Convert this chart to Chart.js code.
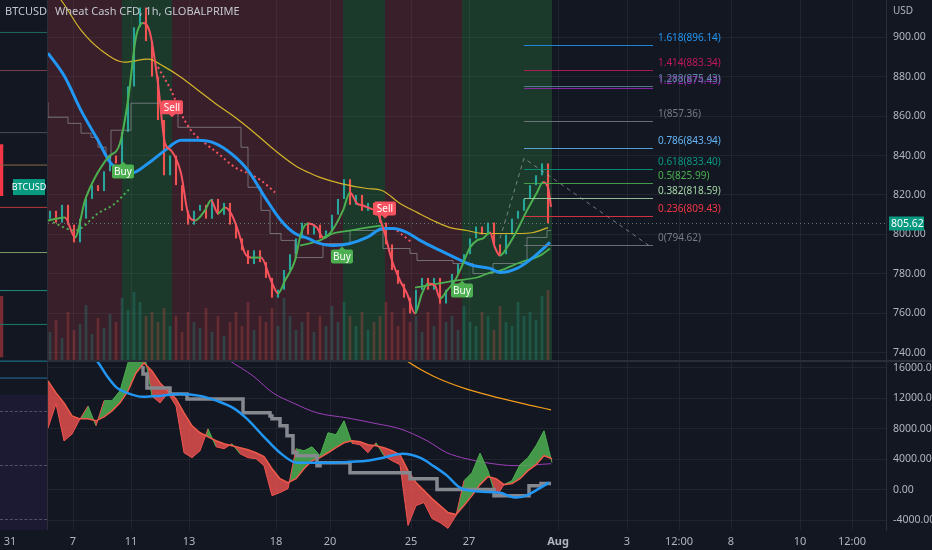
<!DOCTYPE html>
<html>
<head>
<meta charset="utf-8">
<title>Wheat Cash CFD, 1h</title>
<script src="https://cdn.jsdelivr.net/npm/chart.js@4.4.1/dist/chart.umd.min.js"></script>
<style>
  html, body { margin: 0; padding: 0; background: #131722; }
  #wrap { position: relative; width: 932px; height: 550px; overflow: hidden; background: #131722; font-family: "Noto Sans", sans-serif; }
  #topBox { position: absolute; left: 0; top: 0; width: 932px; height: 360px; }
  #sep { position: absolute; left: 0; top: 360px; width: 932px; height: 2px; background: #2a2e39; }
  #botBox { position: absolute; left: 0; top: 362px; width: 932px; height: 188px; }
  #sliver { position: absolute; left: 0; top: 0; width: 47px; height: 530px; background: #131722; border-right: 1px solid #2a2e39; overflow: hidden; }
  #sliverTop { position: absolute; left: 0; top: 0; width: 47px; height: 395px; }
  #sliverOsc { position: absolute; left: 0; top: 395px; width: 47px; height: 135px; background: #1c1a33; }
  .dash { position: absolute; left: 0; width: 47px; border-top: 1px dashed #4f5263; }
  .hdr { position: absolute; top: 3px; font-size: 11px; color: #c3c6ce; white-space: nowrap; }
  #usd { position: absolute; left: 893px; top: 3px; font-size: 10px; color: #b2b5be; }
</style>
</head>
<body>
<div id="wrap">
  <div id="topBox"><canvas id="topChart"></canvas></div>
  <div id="sep"></div>
  <div id="botBox"><canvas id="botChart"></canvas></div>
  <div id="sliver">
    <div id="sliverTop"><canvas id="sliverChart"></canvas></div>
    <div id="sliverOsc">
      <div class="dash" style="top:16px"></div>
      <div class="dash" style="top:70px"></div>
      <div class="dash" style="top:124px"></div>
    </div>
    <div class="hdr" style="left:5px">BTCUSD, 1h</div>
  </div>
  <div class="hdr" style="left:55px">Wheat Cash CFD, 1h, GLOBALPRIME</div>
  <div id="usd">USD</div>
</div>

<script>
// time axis is an hourly bar index (weekends skipped, like the original)
const timeTickBars = [5, 36.5, 65.5, 94.5, 138, 165, 205.5, 234.5, 279, 313.5, 339.5, 365.5, 400, 426];
const timeLabels = ["31", "7", "11", "13", "18", "20", "25", "27", "Aug", "3", "12:00", "8", "10", "12:00"];
const priceTicks = [740, 760, 780, 800, 820, 840, 860, 880, 900];
const oscTicks = [-4000, 0, 4000, 8000, 12000, 16000];

// price candles, one every 3 bars
const candleStart = 25, candleStep = 3, firstOpen = 808;
const closes = [
  812, 806, 815, 805, 796, 808, 818, 825, 822, 832,
  840, 836, 852, 875, 905, 915, 898, 880, 858, 830,
  840, 825, 812, 805, 812, 815, 808, 818, 810, 816,
  805, 798, 792, 785, 792, 786, 778, 768, 772, 782,
  790, 798, 806, 800, 805, 798, 802, 810, 818, 828,
  815, 820, 812, 816, 810, 806, 795, 782, 775, 768,
  760, 772, 778, 772, 778, 765, 772, 780, 785, 790,
  798, 804, 800, 806, 795, 790, 800, 808, 812, 818,
  825, 830, 836, 805.62
];
const volumes = [
  28, 40, 22, 48, 30, 36, 55, 26, 42, 32,
  46, 38, 62, 50, 68, 58, 44, 48, 38, 52,
  34, 44, 28, 48, 38, 32, 52, 28, 44, 24,
  38, 48, 34, 58, 30, 44, 38, 52, 34, 62,
  44, 30, 38, 48, 28, 44, 34, 54, 38, 58,
  44, 34, 48, 30, 38, 44, 58, 48, 34, 52,
  38, 44, 28, 48, 34, 58, 38, 44, 30, 54,
  38, 34, 48, 44, 30, 54, 38, 34, 58, 44,
  48, 40, 64, 70
];

// indicator lines on the price pane: [bar, price]
const fastLine = [[24,807.1],[32.5,808.6],[37.5,798.5],[42.5,817.3],[47.5,828.9],[54,839.1],[60,846.2],[64,868],[68,900],[71.5,907.1],[74,905.1],[75.5,900],[79,876.6],[82.5,846.2],[85.5,842.6],[90.5,831.0],[94,810.7],[97.5,807.1],[102.5,812.2],[105.5,817.3],[109,810.7],[112.5,813.7],[115.5,810.7],[119,802.0],[122.5,790.4],[125.5,788.3],[130.5,788.3],[135.5,776.7],[139,770.1],[142.5,776.7],[147.5,786.8],[150.5,800.5],[154,805.6],[158.5,803.5],[161.5,798.5],[165,800.5],[171.5,812.2],[175,821.3],[178.5,815.7],[181.5,814.7],[185,813.2],[188.5,811.2],[191.5,803.5],[196,786.8],[200,776.7],[203.5,770.1],[207.5,760.0],[211,770.1],[214,775.1],[217.5,774.1],[220,767.5],[223.5,771.6],[227.5,776.7],[231.5,785.3],[235,793.4],[238.5,797.0],[241.5,798.0],[245,801.0],[247.5,793.4],[250,789.3],[253.5,793.4],[258.5,802.0],[263.5,812.2],[268.5,821.3],[271.5,826.4],[274,823.9],[275.5,814.0]];
const blueLine = [[24,891.9],[32.5,879.7],[40.5,862.9],[49,847.7],[55.5,836.0],[65.5,831.0],[74,836.0],[82.5,842.6],[90.5,847.7],[99,847.7],[107.5,846.2],[115.5,841.1],[124,832.5],[132.5,818.8],[140.5,807.1],[147.5,800.5],[154,798.0],[158.5,795.9],[166.5,794.4],[175,795.4],[183.5,798.5],[191.5,803.0],[196.5,803.0],[203.5,801.0],[210,797.0],[220,791.9],[228.5,787.8],[236.5,784.3],[245,782.8],[250,780.7],[258.5,782.8],[266.5,788.3],[275,796.0]];
const yellowLine = [[25,925],[30.5,918.8],[40.5,903.5],[50.5,893.4],[62.5,887.3],[74,888.8],[82.5,884.8],[90.5,879.7],[99,873.1],[107.5,866.5],[117.5,859.4],[127.5,851.3],[137.5,842.6],[147.5,835.0],[154,831.5],[160,828.9],[170,825.9],[183.5,823.3],[191,822.3],[200,815.7],[208.5,811.2],[216.5,807.1],[225,803.5],[233.5,802.0],[241.5,800.5],[250,800.5],[258.5,800.5],[266.5,801.0],[274,803.5]];
const grayStep = [[24,867.0],[34,859.4],[40.5,856.3],[45.5,851.3],[49,849.2],[53,844.2],[55.5,839.1],[65.5,852.8],[89,866.5],[120.5,854.3],[124,844.2],[130.5,823.9],[135,812.2],[140.5,800.5],[147.5,797.0],[161.5,788.3],[175,795.4],[191.5,802.0],[205,792.9],[208.5,790.4],[226.5,786.8],[236.5,785.3],[246.5,780.2],[263.5,785.3],[273.5,798.5],[275.5,802.0]];
const trailUp1 = [[26.5,806.1],[37.5,802.0],[49,810.7],[57.5,815.7],[62.5,820.8],[65,823.3]];
const trailUp2 = [[150,794.4],[160,797.0],[166.5,800.5],[175,802.0],[183.5,803.5],[191.5,804.6]];
const trailUp3 = [[207.5,773.1],[228.5,776.7],[238.5,778.2],[245,780.7],[250,781.7],[260,785.8],[270,789.3],[275,792.9]];
const trailDown1 = [[79,884.8],[85.5,873.1],[90.5,861.4],[95.5,852.8],[102.5,846.2],[109,841.1],[117.5,834.0],[124,831.0],[130.5,827.4],[137.5,821.3]];
const trailDown2 = [[198.5,802.0],[206,795.9]];

// trend zones
const zoneStarts = [24, 61, 86, 171.5, 192.5, 231];
const zoneEnds = [61, 86, 171.5, 192.5, 231, 276];
const zoneTrend = ["down", "up", "down", "up", "down", "up"];

// buy / sell signals
const signalBars = [61.5, 86, 171, 192.5, 231];
const signalPrices = [837.0, 859.4, 793.9, 808.1, 776.7];
const signalTypes = ["Buy", "Sell", "Buy", "Sell", "Buy"];

// trend based fib extension
const fibSwing = [[250,798],[262,838.6],[324.5,794.4]];
const fibStartBar = 262, fibEndBar = 326.5;
const fibRatios = ["0", "0.236", "0.382", "0.5", "0.618", "0.786", "1", "1.272", "1.288", "1.414", "1.618"];
const fibPrices = [794.62, 809.43, 818.59, 825.99, 833.40, 843.94, 857.36, 874.43, 875.43, 883.34, 896.14];
const fibColors = ["#787b86", "#f23645", "#a5d6a7", "#4caf50", "#089981", "#64b5f6", "#787b86", "#9c27b0", "#5a86a6", "#c2185b", "#2196f3"];

// lower pane oscillator, one value every 4 bars
const oscStart = 24, oscStep = 4;
const oscFast = [
  8100, 11300, 6400, 7300, 9300, 11000, 8400, 11700, 11700, 13000,
  16700, 18900, 18200, 12300, 11400, 12700, 11000, 4850, 4200, 5100,
  8000, 5640, 5380, 6030, 4720, 4200, 4070, 3150, -790, -390,
  130, 5380, 5100, 5640, 4460, 7480, 7210, 9050, 6100, 5900,
  4850, 6160, 4460, 3800, 3280, -4720, -2100, -1700, -3800, -4330,
  -5100, -3410, 1180, 2230, 4800, 2490, -1000, 660, 1180, 3280,
  4200, 5770, 7740, 3540
];
const oscSlow = [
  14300, 12720, 11410, 9700, 9310, 9310, 9050, 9570, 10360, 11410,
  12980, 15340, 16660, 15610, 14030, 12980, 11930, 10100, 8390, 7480,
  6950, 6430, 6030, 5770, 5510, 5250, 4850, 4330, 2750, 1440,
  920, 1440, 2750, 3800, 4200, 4850, 5510, 6160, 6430, 6300,
  5900, 5770, 5510, 5110, 4590, 2490, 920, -130, -1180, -2100,
  -3020, -3280, -2100, -790, 660, 1700, 1440, 660, 790, 1440,
  2490, 3280, 4460, 4070
];
const oscBlue = [[40,19000],[48.5,16920],[53.5,14950],[58.5,13380],[63.5,12720],[71.5,12200],[80,12330],[90,12590],[100,12330],[108.5,11670],[116.5,10750],[123.5,9310],[131.5,7080],[140,4850],[148.5,3540],[158.5,3540],[166.5,3540],[175,3670],[183.5,3800],[191.5,4200],[201.5,4720],[210,4200],[216.5,3150],[223.5,1840],[230,260],[239.5,-260],[249.5,-390],[258,-1050],[263,-790],[269.5,130],[274.5,920]];
const oscGray = [[71.5,16260],[73.5,15210],[85,13380],[93.5,12590],[121.5,11930],[135,10100],[136,9700],[140,9310],[143.5,8390],[146.5,7080],[148.5,4850],[158.5,4460],[160,3150],[175,3540],[205,2230],[218.5,1440],[247,0],[264.5,-790],[270.5,520],[273,790],[275.5,790]];
const oscPurple = [[107.5,18230],[115,16920],[126.5,14950],[136.5,12720],[146.5,11410],[158.5,10100],[173.5,9440],[188.5,8660],[200,8000],[213.5,6430],[223.5,4850],[233,4070],[243,3540],[258,3150],[275.5,3410]];
const oscOrange = [[197.5,18230],[203.5,16920],[216.5,14950],[233,13250],[249.5,12070],[266.5,11020],[275.5,10490]];

// BTCUSD sliver on the left
const btcLevels = [24370, 24100, 23660, 23430, 23130, 22810, 22540, 22300, 22040, 21920];
const btcLevelColors = ["#1e6b62", "#7a3f52", "#4a4e59", "#8a6a45", "#b83a3a", "#7c9a6a", "#1f8f80", "#1a7a66", "#1f7f95", "#246e9c"];
const btcCandles = [[23575, 23213], [22500, 22070]];
const btcLast = 23274;

Chart.defaults.font.family = '"Noto Sans", sans-serif';
Chart.defaults.color = "#b2b5be";

const gridColor = "rgba(120,123,134,0.13)";
const upColor = "#26a69a", downColor = "#ef5350";
const green = "#4caf50", red = "#f7525f";

const pts = arr => arr.map(([x, y]) => ({ x, y }));
const line = (data, color, width, extra) => Object.assign({
  type: "line", data: pts(data), borderColor: color, borderWidth: width,
  pointRadius: 0, cubicInterpolationMode: "monotone", fill: false
}, extra || {});

const opens = closes.map((c, i) => (i ? closes[i - 1] : firstOpen));
const candleColors = closes.map((c, i) => (c >= opens[i] ? upColor : downColor));
const volColors = closes.map((c, i) => (c >= opens[i] ? "rgba(38,166,154,0.26)" : "rgba(239,83,80,0.26)"));

const xScale = (showTicks) => ({
  type: "linear", min: 0, max: 443, offset: false,
  afterBuildTicks: s => { s.ticks = timeTickBars.map(v => ({ value: v })); },
  afterFit: s => { s.height = showTicks ? 20 : 0; s.paddingLeft = 0; s.paddingRight = 0; },
  grid: { color: gridColor, drawTicks: false, offset: false },
  border: { display: false },
  ticks: {
    display: showTicks, maxRotation: 0, autoSkip: false, padding: 5, color: "#b2b5be",
    font: ctx => ({ size: 11, weight: timeLabels[ctx.index] === "Aug" ? "bold" : "normal" }),
    callback: (v, i) => timeLabels[i]
  }
});
const yScale = (min, max, ticks) => ({
  position: "right", min, max,
  afterBuildTicks: s => { s.ticks = ticks.map(v => ({ value: v })); },
  afterFit: s => { s.width = 46; s.paddingTop = 0; s.paddingBottom = 0; },
  grid: { color: gridColor, drawTicks: false },
  border: { color: "#2a2e39" },
  ticks: { color: "#b2b5be", font: { size: 10.5 }, padding: 7, callback: v => v.toFixed(2) }
});

const zonePlugin = {
  id: "zones",
  beforeDraw(chart) {
    const { ctx, chartArea: a, scales: { x } } = chart;
    ctx.save();
    zoneStarts.forEach((s, i) => {
      const x0 = x.getPixelForValue(s), x1 = x.getPixelForValue(zoneEnds[i]);
      ctx.fillStyle = zoneTrend[i] === "up" ? "#1c3a2b" : "#381f29";
      ctx.fillRect(x0, a.top, x1 - x0, a.bottom - a.top);
    });
    ctx.restore();
  }
};

const fibPlugin = {
  id: "fib",
  afterDatasetsDraw(chart) {
    const { ctx, scales: { x, y } } = chart;
    const x0 = x.getPixelForValue(fibStartBar), x1 = x.getPixelForValue(fibEndBar);
    ctx.save();
    ctx.font = '10px "Noto Sans", sans-serif';
    ctx.textBaseline = "middle";
    fibPrices.forEach((p, i) => {
      const py = Math.round(y.getPixelForValue(p)) + 0.5;
      ctx.strokeStyle = fibColors[i];
      ctx.globalAlpha = 0.85;
      ctx.lineWidth = 1;
      ctx.beginPath(); ctx.moveTo(x0, py); ctx.lineTo(x1, py); ctx.stroke();
      ctx.globalAlpha = 1;
      ctx.fillStyle = fibColors[i];
      ctx.fillText(fibRatios[i] + "(" + p.toFixed(2) + ")", x1 + 5, py - 7);
    });
    ctx.restore();
  }
};

const signalPlugin = {
  id: "signals",
  afterDatasetsDraw(chart) {
    const { ctx, scales: { x, y } } = chart;
    ctx.save();
    ctx.font = '10px "Noto Sans", sans-serif';
    ctx.textAlign = "center";
    ctx.textBaseline = "middle";
    signalBars.forEach((b, i) => {
      const px = x.getPixelForValue(b), py = y.getPixelForValue(signalPrices[i]);
      const buy = signalTypes[i] === "Buy";
      const w = 22, h = 14;
      const top = buy ? py + 3 : py - 3 - h;
      ctx.fillStyle = buy ? green : red;
      ctx.beginPath();
      ctx.roundRect(px - w / 2, top, w, h, 2);
      ctx.fill();
      ctx.beginPath();
      if (buy) { ctx.moveTo(px - 4, top + 1); ctx.lineTo(px, py); ctx.lineTo(px + 4, top + 1); }
      else { ctx.moveTo(px - 4, top + h - 1); ctx.lineTo(px, py); ctx.lineTo(px + 4, top + h - 1); }
      ctx.fill();
      ctx.fillStyle = "#ffffff";
      ctx.fillText(signalTypes[i], px, top + h / 2 + 0.5);
    });
    ctx.restore();
  }
};

const lastPrice = closes[closes.length - 1];
const pricePlugin = {
  id: "lastPrice",
  afterDraw(chart) {
    const { ctx, chartArea: a, scales: { y } } = chart;
    const py = Math.round(y.getPixelForValue(lastPrice)) + 0.5;
    ctx.save();
    ctx.strokeStyle = "rgba(120,150,145,0.75)";
    ctx.setLineDash([1, 3]);
    ctx.lineWidth = 1;
    ctx.beginPath(); ctx.moveTo(a.left, py); ctx.lineTo(a.right, py); ctx.stroke();
    ctx.setLineDash([]);
    ctx.fillStyle = "#089981";
    ctx.fillRect(a.right + 3, py - 7, 35, 14);
    ctx.fillStyle = "#ffffff";
    ctx.font = '10.5px "Noto Sans", sans-serif';
    ctx.textBaseline = "middle";
    ctx.fillText(lastPrice.toFixed(2), a.right + 5, py + 0.5);
    ctx.restore();
  }
};

new Chart(document.getElementById("topChart"), {
  data: {
    datasets: [
      line(fastLine, green, 2, { order: 1, segment: { borderColor: c => (c.p1.parsed.y >= c.p0.parsed.y ? green : red) } }),
      line(blueLine, "#2196f3", 3, { order: 2 }),
      line(trailUp1, green, 2, { order: 3, borderDash: [2, 3] }),
      line(trailUp2, green, 1.8, { order: 3 }),
      line(trailUp3, green, 1.8, { order: 3 }),
      line(trailDown1, red, 2, { order: 3, borderDash: [2, 3] }),
      line(trailDown2, red, 2, { order: 3, borderDash: [2, 3] }),
      line(yellowLine, "#d4b42a", 1.2, { order: 4 }),
      line(grayStep, "rgba(150,152,160,0.65)", 1, { order: 5, stepped: "after", cubicInterpolationMode: "default" }),
      line(fibSwing, "rgba(178,181,190,0.6)", 1, { order: 6, borderDash: [4, 4], cubicInterpolationMode: "default" }),
      {
        type: "bar", order: 7, grouped: false,
        data: closes.map((c, i) => ({ x: candleStart + i * candleStep, y: [opens[i], c] })),
        backgroundColor: candleColors, barPercentage: 0.35, categoryPercentage: 1, minBarLength: 1
      },
      {
        type: "bar", order: 8, grouped: false, yAxisID: "yv",
        data: volumes.map((v, i) => ({ x: candleStart + i * candleStep, y: v })),
        backgroundColor: volColors, barPercentage: 0.45, categoryPercentage: 1
      }
    ]
  },
  options: {
    responsive: true, maintainAspectRatio: false, animation: false,
    layout: { padding: 0 },
    plugins: { legend: { display: false }, tooltip: { enabled: false } },
    scales: {
      x: xScale(false),
      y: yScale(736.4, 918.8, priceTicks),
      yv: { display: false, min: 0, max: 360 }
    }
  },
  plugins: [zonePlugin, fibPlugin, signalPlugin, pricePlugin]
});

const oscX = i => oscStart + i * oscStep;
new Chart(document.getElementById("botChart"), {
  data: {
    datasets: [
      line(oscSlow.map((v, i) => [oscX(i), v]), "#f05a4a", 1.5, { order: 3, cubicInterpolationMode: "default" }),
      line(oscFast.map((v, i) => [oscX(i), v]), "rgba(0,0,0,0)", 1, {
        order: 4, cubicInterpolationMode: "default",
        fill: { target: 0, above: "rgba(76,175,80,0.85)", below: "rgba(239,83,80,0.8)" },
        segment: { borderColor: c => (oscFast[c.p0DataIndex] >= oscSlow[c.p0DataIndex] ? "#4caf50" : "#ef5350") }
      }),
      line(oscBlue, "#2196f3", 2.5, { order: 1 }),
      line(oscGray, "#85888f", 3.5, { order: 2, stepped: "after", cubicInterpolationMode: "default" }),
      line(oscPurple, "#9c3fb8", 1, { order: 5 }),
      line(oscOrange, "#f59c1a", 1.2, { order: 5 })
    ]
  },
  options: {
    responsive: true, maintainAspectRatio: false, animation: false,
    layout: { padding: 0 },
    plugins: { legend: { display: false }, tooltip: { enabled: false } },
    scales: {
      x: xScale(true),
      y: yScale(-5311, 16787, oscTicks)
    }
  }
});

const btcTagPlugin = {
  id: "btcTag",
  afterDraw(chart) {
    const { ctx, chartArea: a, scales: { y } } = chart;
    const py = y.getPixelForValue(btcLast);
    ctx.save();
    ctx.fillStyle = "#089981";
    ctx.fillRect(a.right - 34, py - 8, 32, 16);
    ctx.fillStyle = "#ffffff";
    ctx.font = '9px "Noto Sans", sans-serif';
    ctx.textAlign = "center";
    ctx.textBaseline = "middle";
    ctx.fillText("BTCUSD", a.right - 18, py + 0.5);
    ctx.restore();
  }
};

new Chart(document.getElementById("sliverChart"), {
  data: {
    datasets: btcLevels.map((v, i) => line([[0, v], [10, v]], btcLevelColors[i], 1, { cubicInterpolationMode: "default" })).concat([{
      type: "bar", grouped: false,
      data: btcCandles.map(c => ({ x: 0.3, y: c })),
      backgroundColor: ["#f23645", "#7a2a33"], barThickness: 3
    }])
  },
  options: {
    responsive: true, maintainAspectRatio: false, animation: false,
    layout: { padding: 0 },
    plugins: { legend: { display: false }, tooltip: { enabled: false } },
    scales: {
      x: { type: "linear", display: false, min: 0, max: 10, offset: false },
      y: { display: false, min: 21800, max: 24600 }
    }
  },
  plugins: [btcTagPlugin]
});
</script>
</body>
</html>
